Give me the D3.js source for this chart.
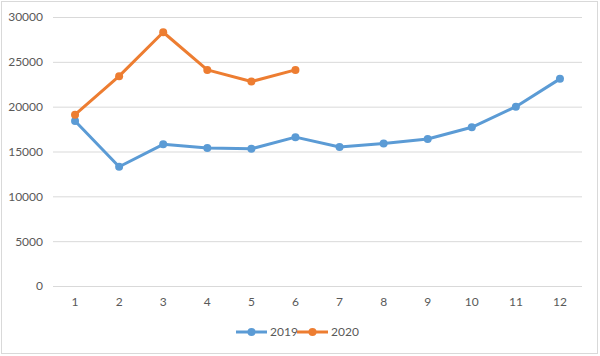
<!DOCTYPE html>
<html><head><meta charset="utf-8">
<script src="https://d3js.org/d3.v7.min.js"></script>
<style>body{margin:0;background:#fff}svg{display:block}text{font-family:Lato,"Open Sans",sans-serif}</style>
</head><body><svg id="c" width="600" height="356"></svg>
<script>
const categories = ["1","2","3","4","5","6","7","8","9","10","11","12"];
const series2019 = [18400,13300,15800,15400,15300,16600,15500,15900,16400,17700,20000,23100];
const series2020 = [19100,23400,28300,24100,22800,24100];
const yTicks = [0,5000,10000,15000,20000,25000,30000];
const seriesNames = ["2019","2020"];
const colors = ["#5B9BD5","#ED7D31"];

const svg = d3.select("#c");
svg.append("rect").attr("x",1.5).attr("y",1.5).attr("width",596).attr("height",352)
  .attr("fill","#fff").attr("stroke","#d9d9d9");

const x = d3.scaleBand().domain(categories).range([53,582]);
const y = d3.scaleLinear().domain([0,30000]).range([286,17]);

const gy = svg.append("g").attr("transform","translate(53,0)")
  .call(d3.axisLeft(y).tickValues(yTicks).tickFormat(d3.format("d")).tickSize(-529).tickPadding(10));
gy.select(".domain").remove();
gy.selectAll("line").attr("stroke","#d9d9d9");
gy.selectAll("text").attr("fill","#595959").style("font-size","12px");

const gx = svg.append("g").attr("transform","translate(0,286)")
  .call(d3.axisBottom(x).tickSize(0).tickPadding(11));
gx.select(".domain").remove();
gx.selectAll("text").attr("fill","#595959").style("font-size","12px");

const line = d3.line().x((d,i)=>x(categories[i])+x.bandwidth()/2).y(d=>y(d));
[series2019,series2020].forEach((s,k)=>{
  svg.append("path").datum(s).attr("d",line).attr("fill","none")
    .attr("stroke",colors[k]).attr("stroke-width",3).attr("stroke-linejoin","round");
  svg.selectAll(null).data(s).enter().append("circle")
    .attr("cx",(d,i)=>x(categories[i])+x.bandwidth()/2).attr("cy",d=>y(d))
    .attr("r",4).attr("fill",colors[k]);
});

const legX = [236,297];
seriesNames.forEach((n,k)=>{
  const g = svg.append("g").attr("transform",`translate(${legX[k]},332)`);
  g.append("line").attr("x1",0).attr("x2",31).attr("stroke",colors[k]).attr("stroke-width",3);
  g.append("circle").attr("cx",15.5).attr("r",4).attr("fill",colors[k]);
  g.append("text").attr("x",34).attr("dy","0.35em").attr("fill","#595959").style("font-size","12px").text(n);
});
</script></body></html>
